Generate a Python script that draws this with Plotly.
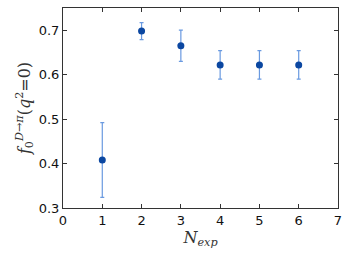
import plotly.graph_objects as go

n_exp = [1, 2, 3, 4, 5, 6]
f0 = [0.408, 0.698, 0.665, 0.622, 0.622, 0.622]
err = [0.084, 0.019, 0.035, 0.032, 0.032, 0.032]
x_ticks = [0, 1, 2, 3, 4, 5, 6, 7]
y_ticks = [0.3, 0.4, 0.5, 0.6, 0.7]

fig = go.Figure()
fig.add_trace(go.Scatter(
    x=n_exp, y=f0, mode="markers",
    marker=dict(color="#0b47a1", size=7),
    error_y=dict(type="data", array=err, visible=True, color="#6a9ae0", thickness=1.2, width=2),
    showlegend=False,
))

axis_common = dict(
    showgrid=False, zeroline=False, showline=True, linecolor="#333", linewidth=1,
    mirror="ticks", ticks="inside", ticklen=4, tickcolor="#333", automargin=False,
    tickfont=dict(family="DejaVu Sans", size=13, color="#111"),
)
fig.update_layout(
    template="none",
    width=349, height=262,
    margin=dict(l=63, r=11, t=8, b=54),
    paper_bgcolor="white", plot_bgcolor="white",
    xaxis=dict(range=[0, 7], tickvals=x_ticks, ticktext=[str(v) for v in x_ticks],
               title=dict(text="<i>N<sub>exp</sub></i>", font=dict(family="DejaVu Serif", size=16, color="#333"), standoff=4),
               **axis_common),
    yaxis=dict(range=[0.3, 0.75], tickvals=y_ticks, ticktext=[f"{v:.1f}" for v in y_ticks],
               title=dict(text="<i>f</i><sub>0</sub><sup><i>D</i>→<i>π</i></sup>(<i>q</i><sup>2</sup>=0)", font=dict(family="DejaVu Serif", size=16, color="#333"), standoff=4),
               **axis_common),
)
fig.write_html("out.html", config={"displayModeBar": False}, post_script="document.body.style.margin='0';")
